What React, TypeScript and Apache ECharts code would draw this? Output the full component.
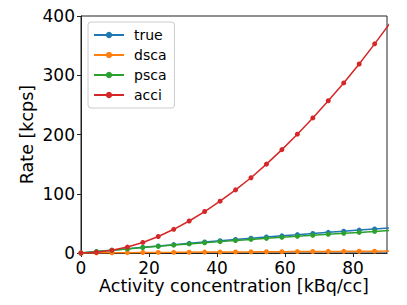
import React, { useEffect, useRef } from "react";
import * as echarts from "echarts";

const activity = [0, 4.545, 9.091, 13.636, 18.182, 22.727, 27.273, 31.818, 36.364, 40.909, 45.455, 50, 54.545, 59.091, 63.636, 68.182, 72.727, 77.273, 81.818, 86.364, 90.909, 95.455, 100];
const trueRate = [0, 2.4, 4.8, 7.2, 9.5, 11.8, 14.1, 16.3, 18.5, 20.7, 22.8, 24.9, 27.0, 29.0, 31.0, 33.0, 34.9, 36.8, 38.7, 40.6, 42.4, 44.2, 46.0];
const dscaRate = [0, 0.2, 0.4, 0.6, 0.8, 1.0, 1.1, 1.3, 1.5, 1.6, 1.8, 1.9, 2.1, 2.2, 2.4, 2.5, 2.7, 2.8, 3.0, 3.1, 3.3, 3.4, 3.6];
const pscaRate = [0, 2.4, 4.7, 6.9, 9.1, 11.2, 13.3, 15.3, 17.3, 19.2, 21.1, 22.9, 24.7, 26.5, 28.2, 29.9, 31.6, 33.2, 34.8, 36.4, 38.0, 39.5, 41.0];
const acciRate = [0, 1.2, 4.5, 10, 17.8, 27.8, 40, 54, 70, 87.5, 106.5, 127, 150, 174.5, 200.5, 228, 257, 287, 319, 353, 388, 424, 461];

const seriesNames = ["true", "dsca", "psca", "acci"];
const seriesValues = [trueRate, dscaRate, pscaRate, acciRate];
const colors = ["#1f77b4", "#ff7f0e", "#2ca02c", "#d62728"];

const FONT = "DejaVu Sans";

export default function App() {
  const ref = useRef<HTMLDivElement>(null);
  useEffect(() => {
    if (!ref.current) return;
    document.body.style.margin = "0";
    const chart = echarts.init(ref.current, undefined, { renderer: "svg" });
    chart.setOption({
      animation: false,
      backgroundColor: "#ffffff",
      grid: {
        left: 81,
        right: 20,
        top: 16,
        bottom: 52,
        show: true,
        borderColor: "#222",
        borderWidth: 1,
        backgroundColor: "transparent",
      },
      legend: {
        left: 88,
        top: 22,
        orient: "vertical",
        padding: [6, 8, 6, 5],
        itemWidth: 30,
        itemHeight: 8,
        itemGap: 6,
        backgroundColor: "rgba(255,255,255,0.8)",
        borderColor: "#cccccc",
        borderWidth: 1,
        borderRadius: 3,
        textStyle: { fontFamily: FONT, fontSize: 14, color: "#000", padding: [0, 0, 0, 5] },
        data: seriesNames,
      },
      xAxis: {
        type: "value",
        min: 0,
        max: 90,
        interval: 20,
        name: "Activity concentration [kBq/cc]",
        nameLocation: "middle",
        nameGap: 24,
        nameMoveOverlap: false,
        nameTextStyle: { fontFamily: FONT, fontSize: 17.5, color: "#000" },
        axisLine: { show: true, lineStyle: { color: "#222", width: 1 } },
        axisTick: { show: true, inside: false, length: 4, lineStyle: { color: "#222" } },
        axisLabel: { fontFamily: FONT, fontSize: 17, color: "#000", margin: 6, showMaxLabel: false },
        splitLine: { show: false },
      },
      yAxis: {
        type: "value",
        min: 0,
        max: 400,
        interval: 100,
        name: "Rate [kcps]",
        nameLocation: "middle",
        nameGap: 45,
        nameMoveOverlap: false,
        nameTextStyle: { fontFamily: FONT, fontSize: 17.5, color: "#000" },
        axisLine: { show: true, lineStyle: { color: "#222", width: 1 } },
        axisTick: { show: true, inside: false, length: 4, lineStyle: { color: "#222" } },
        axisLabel: { fontFamily: FONT, fontSize: 17, color: "#000", margin: 6 },
        splitLine: { show: false },
      },
      series: seriesNames.map((name, i) => ({
        name,
        type: "line",
        data: activity.map((x, j) => [x, seriesValues[i][j]]),
        symbol: "circle",
        symbolSize: 5,
        showSymbol: true,
        clip: true,
        lineStyle: { color: colors[i], width: 1.5 },
        itemStyle: { color: colors[i] },
        z: 2 + i,
      })),
    });
    return () => chart.dispose();
  }, []);
  return <div ref={ref} style={{ width: 407, height: 305 }} />;
}
